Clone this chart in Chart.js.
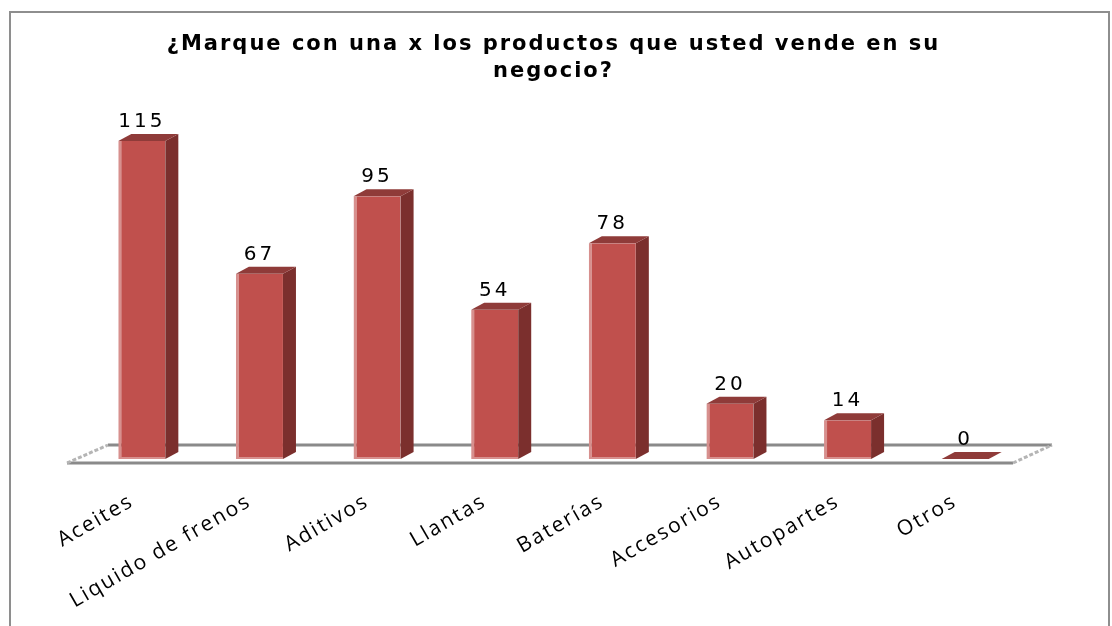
<!DOCTYPE html>
<html>
<head>
<meta charset="utf-8">
<script src="https://cdn.jsdelivr.net/npm/chart.js@4.4.1/dist/chart.umd.min.js"></script>
<style>
  html, body { margin: 0; padding: 0; background: #fff; overflow: hidden; }
  #marco { position: absolute; left: 9px; top: 11px; width: 1097px; height: 700px; border: 2px solid #8e8e8e; }
  #grafico { position: absolute; left: 0; top: 0; }
</style>
</head>
<body>
<div id="marco"></div>
<canvas id="grafico" width="1112" height="626"></canvas>
<script>
var categorias = ["Aceites", "Liquido de frenos", "Aditivos", "Llantas", "Baterías", "Accesorios", "Autopartes", "Otros"];
var respuestas = [115, 67, 95, 54, 78, 20, 14, 0];
var titulo = ["¿Marque con una x los productos que usted vende en su", "negocio?"];

// profundidad de las barras "3D"
var DX = 13, DY = -7;

var barras3d = {
  id: 'barras3d',
  beforeUpdate: function (chart) { chart.ctx.letterSpacing = '2px'; },
  beforeDraw: function (chart) { chart.ctx.letterSpacing = '2px'; },
  beforeDatasetsDraw: function (chart) {
    var ctx = chart.ctx, a = chart.chartArea;
    var y0 = chart.scales.y.getPixelForValue(0);
    ctx.save();
    // piso
    ctx.lineWidth = 3;
    ctx.strokeStyle = '#8a8a8a';
    ctx.beginPath();
    ctx.moveTo(a.left - 16, y0 + 4); ctx.lineTo(a.right - 11, y0 + 4);
    ctx.moveTo(a.left + 25, y0 - 14); ctx.lineTo(a.right + 28, y0 - 14);
    ctx.stroke();
    ctx.strokeStyle = '#b5b5b5';
    ctx.setLineDash([4, 2]);
    ctx.beginPath();
    ctx.moveTo(a.left - 16, y0 + 4); ctx.lineTo(a.left + 25, y0 - 14);
    ctx.moveTo(a.right - 11, y0 + 4); ctx.lineTo(a.right + 28, y0 - 14);
    ctx.stroke();
    ctx.restore();
  },
  afterDatasetsDraw: function (chart) {
    var ctx = chart.ctx;
    var meta = chart.getDatasetMeta(0);
    ctx.save();
    meta.data.forEach(function (bar, i) {
      var l = bar.x - bar.width / 2, r = bar.x + bar.width / 2, t = bar.y, b = bar.base;
      // cara lateral
      ctx.fillStyle = '#7b2f2d';
      ctx.beginPath();
      ctx.moveTo(r, t); ctx.lineTo(r + DX, t + DY); ctx.lineTo(r + DX, b + DY); ctx.lineTo(r, b);
      ctx.closePath(); ctx.fill();
      // cara superior
      ctx.fillStyle = '#8f3b39';
      ctx.beginPath();
      ctx.moveTo(l, t); ctx.lineTo(l + DX, t + DY); ctx.lineTo(r + DX, t + DY); ctx.lineTo(r, t);
      ctx.closePath(); ctx.fill();
      // valor
      ctx.letterSpacing = '3px';
      ctx.font = '20px "DejaVu Sans"';
      ctx.fillStyle = '#000';
      ctx.textAlign = 'center';
      ctx.textBaseline = 'alphabetic';
      ctx.fillText(String(respuestas[i]), bar.x, t - 14);
    });
    ctx.restore();
  }
};

new Chart(document.getElementById('grafico'), {
  type: 'bar',
  data: {
    labels: categorias,
    datasets: [{
      data: respuestas,
      backgroundColor: '#c0504d',
      borderColor: '#d7908e',
      borderWidth: { left: 3, right: 0, top: 0, bottom: 2 },
      borderSkipped: false,
      categoryPercentage: 1,
      barPercentage: 0.4
    }]
  },
  plugins: [barras3d],
  options: {
    responsive: false,
    animation: false,
    layout: { padding: { left: 83, right: 88, top: 0, bottom: 0 } },
    plugins: {
      legend: { display: false },
      tooltip: { enabled: false },
      title: {
        display: true,
        text: titulo,
        color: '#000',
        font: { family: 'DejaVu Sans', size: 21, weight: 'bold', lineHeight: 1.3 },
        padding: { top: 31, bottom: 14 }
      }
    },
    scales: {
      y: { display: false, min: 0, max: 130 },
      x: {
        grid: { display: false },
        border: { display: false },
        ticks: {
          color: '#000',
          font: { family: 'Open Sans', size: 21 },
          minRotation: 30,
          maxRotation: 30,
          autoSkip: false,
          labelOffset: -10,
          padding: 22
        },
        afterFit: function (scale) { scale.height = 167; }
      }
    }
  }
});
</script>
</body>
</html>
